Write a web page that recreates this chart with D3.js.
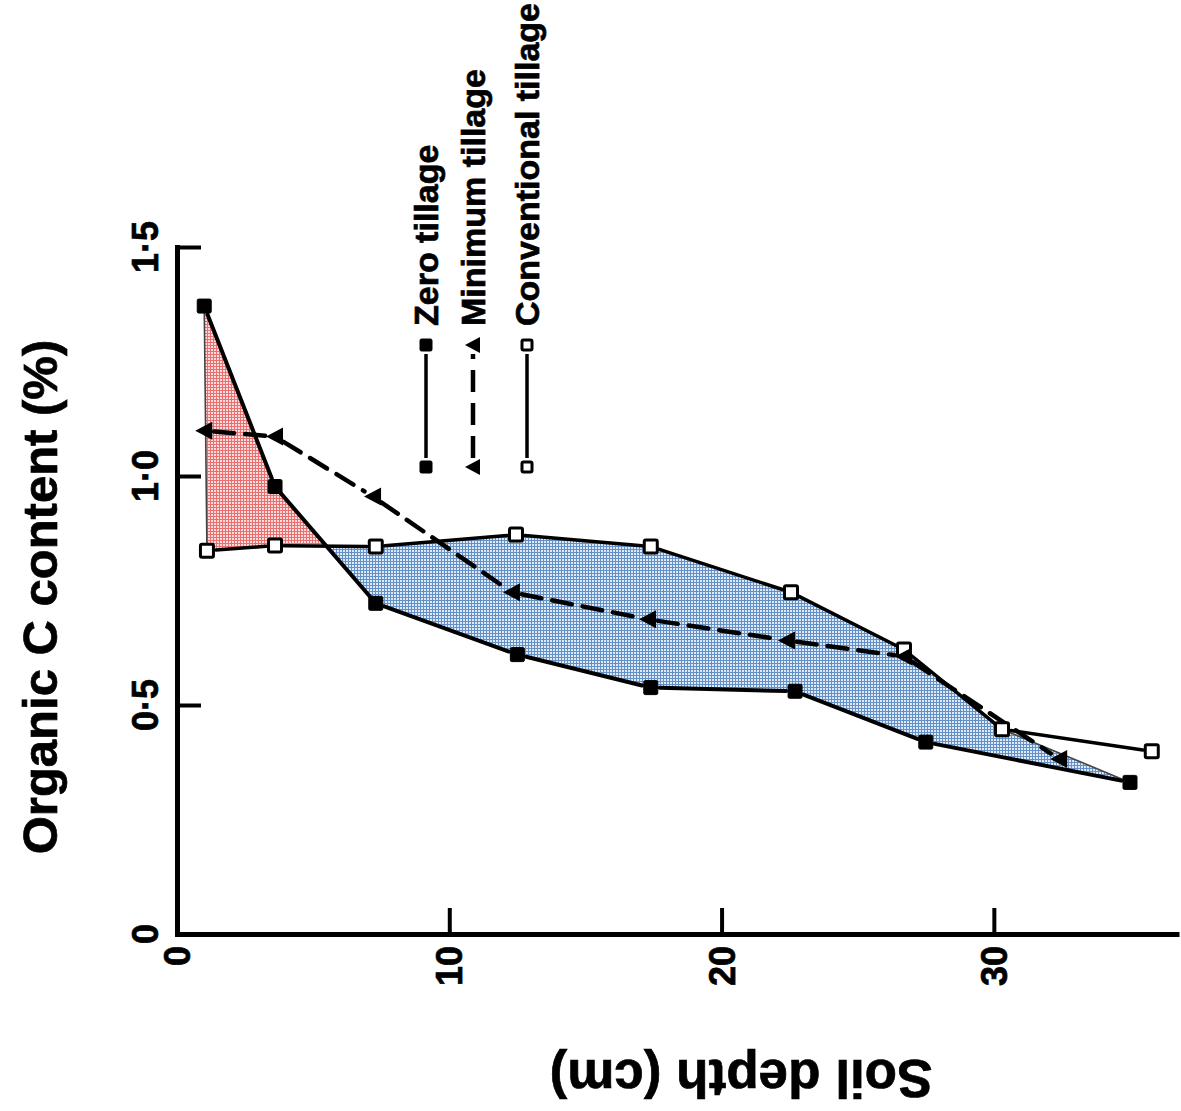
<!DOCTYPE html>
<html><head><meta charset="utf-8">
<script src="https://cdn.jsdelivr.net/npm/d3@7"></script>
<style>
body{margin:0;background:#fff}
svg{display:block}
text{font-family:"Liberation Sans",Arial,Helvetica,sans-serif;font-weight:bold;fill:#000;stroke:#000;stroke-width:0.7px}
</style>
</head><body>
<svg id="c" width="1181" height="1111"></svg>
<script>
// ---------- data ----------
const xTicks = [0, 10, 20, 30];
const xTickLabels = ["0", "10", "20", "30"];
const yTicks = [0, 0.5, 1.0, 1.5];
const yTickLabels = ["0", "0·5", "1·0", "1·5"];
const seriesNames = ["Zero tillage", "Minimum tillage", "Conventional tillage"];
const xTitle = "Soil depth (cm)";
const yTitle = "Organic C content (%)";

const depthZero  = [1.0, 3.6, 7.3, 12.5, 17.4, 22.7, 27.5, 35.0];
const valueZero  = [1.371, 0.977, 0.722, 0.610, 0.538, 0.530, 0.419, 0.331];

const depthMin   = [1.0, 3.6, 7.2, 12.3, 17.3, 22.4, 26.7, 32.4];
const valueMin   = [1.099, 1.086, 0.955, 0.746, 0.687, 0.641, 0.606, 0.382];

const depthConv  = [1.1, 3.6, 7.3, 12.45, 17.4, 22.55, 26.7, 30.3, 35.8];
const valueConv  = [0.837, 0.848, 0.846, 0.872, 0.846, 0.746, 0.621, 0.447, 0.399];

// ---------- setup ----------
const svg = d3.select("#c");
const x = d3.scaleLinear().domain([0, 36.8]).range([177, 1179]);
const y = d3.scaleLinear().domain([0, 1.5]).range([934, 247]);

const defs = svg.append("defs");
function hatch(id, base, line) {
  const p = defs.append("pattern").attr("id", id).attr("width", 3).attr("height", 3)
    .attr("patternUnits", "userSpaceOnUse");
  p.append("rect").attr("width", 3).attr("height", 3).attr("fill", base);
  p.append("path").attr("d", "M0,0.5H3M0.5,0V3").attr("stroke", line)
    .attr("stroke-width", 1).attr("shape-rendering", "crispEdges");
}
hatch("pr", "#ffdcdc", "#e87070");
hatch("pb", "#dde9f6", "#6390c6");

const zero = depthZero.map((d, i) => [d, valueZero[i]]);
const mini = depthMin.map((d, i) => [d, valueMin[i]]);
const conv = depthConv.map((d, i) => [d, valueConv[i]]);

// intersection of zero and conventional polylines (first crossing)
function segInt(a, b, c, d) {
  const r = [b[0]-a[0], b[1]-a[1]], s = [d[0]-c[0], d[1]-c[1]];
  const den = r[0]*s[1] - r[1]*s[0];
  if (Math.abs(den) < 1e-12) return null;
  const t = ((c[0]-a[0])*s[1] - (c[1]-a[1])*s[0]) / den;
  const u = ((c[0]-a[0])*r[1] - (c[1]-a[1])*r[0]) / den;
  if (t < 0 || t > 1 || u < 0 || u > 1) return null;
  return {p: [a[0]+t*r[0], a[1]+t*r[1]]};
}
let cross = null, zi = 0, ci = 0;
outer: for (let i = 0; i < zero.length-1; i++) {
  for (let j = 0; j < conv.length-1; j++) {
    const r = segInt(zero[i], zero[i+1], conv[j], conv[j+1]);
    if (r) { cross = r.p; zi = i; ci = j; break outer; }
  }
}

const poly = d3.line().x(d => x(d[0])).y(d => y(d[1]));
const redPts = [...zero.slice(0, zi+1), cross, ...conv.slice(0, ci+1).reverse()];
const lastConvBlue = conv.length - 2;
const bluePts = [cross, ...conv.slice(ci+1, lastConvBlue+1), zero[zero.length-1],
                 ...zero.slice(zi+1, zero.length-1).reverse()];

svg.append("path").attr("d", poly(redPts) + "Z").attr("fill", "url(#pr)");
svg.append("path").attr("d", poly(bluePts) + "Z").attr("fill", "url(#pb)");
svg.append("path").attr("d", poly(redPts) + "Z").attr("fill", "none")
  .attr("stroke", "#444").attr("stroke-width", 1.6).attr("stroke-linejoin", "round");
svg.append("path").attr("d", poly(bluePts) + "Z").attr("fill", "none")
  .attr("stroke", "#444").attr("stroke-width", 1.6).attr("stroke-linejoin", "round");

// ---------- axes ----------
const xAxis = d3.axisBottom(x).tickValues(xTicks.slice(1)).tickSize(-26).tickSizeOuter(0).tickFormat("");
const gx = svg.append("g").attr("transform", `translate(0,${y(0)})`).call(xAxis);
gx.select(".domain").attr("stroke", "#000").attr("stroke-width", 5);
gx.selectAll(".tick line").attr("stroke", "#000").attr("stroke-width", 4);

const yAxis = d3.axisLeft(y).tickValues(yTicks.slice(1)).tickSize(-24).tickSizeOuter(0).tickFormat("");
const gy = svg.append("g").attr("transform", `translate(${x(0)},0)`).call(yAxis);
gy.select(".domain").attr("stroke", "#000").attr("stroke-width", 5).attr("stroke-linecap", "square");
gy.selectAll(".tick line").attr("stroke", "#000").attr("stroke-width", 4);

// tick labels (rotated)
xTicks.forEach((t, i) => {
  svg.append("text").attr("transform", `translate(${x(t)+13},946) rotate(-90)`)
    .attr("text-anchor", "end").attr("font-size", 36).text(xTickLabels[i]);
});
yTicks.forEach((t, i) => {
  svg.append("text").attr("transform", `translate(158,${y(t)}) rotate(-90)`)
    .attr("text-anchor", "middle").attr("font-size", 36).text(yTickLabels[i]);
});

svg.append("text").attr("transform", "translate(57,597) rotate(-90)")
  .attr("text-anchor", "middle").attr("font-size", 49).text(yTitle);
svg.append("text").attr("transform", "translate(741,1060) rotate(180)")
  .attr("text-anchor", "middle").attr("font-size", 53).text(xTitle);

// ---------- series ----------
function drawSegments(pts, dash, width, gap) {
  const P = pts.map(d => [x(d[0]), y(d[1])]);
  for (let i = 0; i < P.length-1; i++) {
    const [x1, y1] = P[i], [x2, y2] = P[i+1];
    const L = Math.hypot(x2-x1, y2-y1), ux = (x2-x1)/L, uy = (y2-y1)/L;
    svg.append("line")
      .attr("x1", x1+ux*gap).attr("y1", y1+uy*gap)
      .attr("x2", x2-ux*gap).attr("y2", y2-uy*gap)
      .attr("stroke", "#000").attr("stroke-width", width)
      .attr("stroke-dasharray", dash).attr("stroke-linecap", "round");
  }
}
drawSegments(zero, null, 4, 9);
drawSegments(mini, "20,11", 4.5, 10);
drawSegments(conv, null, 3.5, 9);

const triPath = "M-9,0L8,-9L8,9Z";
function square(g, cx, cy, s, filled) {
  g.append("rect").attr("x", cx - s/2).attr("y", cy - s/2).attr("width", s).attr("height", s)
    .attr("rx", 1.5)
    .attr("fill", filled ? "#000" : "#fff").attr("stroke", "#000")
    .attr("stroke-width", filled ? 1 : 3);
}
zero.forEach(d => square(svg, x(d[0]), y(d[1]), 14, true));
conv.forEach(d => square(svg, x(d[0]), y(d[1]), 13, false));
mini.forEach(d => svg.append("path").attr("d", triPath)
  .attr("transform", `translate(${x(d[0])},${y(d[1])})`).attr("fill", "#000"));

// ---------- legend (rotated) ----------
const legCols = [426, 473, 527];
const legBottom = 467, legTop = 345;
seriesNames.forEach((name, i) => {
  const cx = legCols[i];
  const g = svg.append("g");
  g.append("line").attr("x1", cx).attr("x2", cx).attr("y1", legBottom - 9).attr("y2", legTop + 9)
    .attr("stroke", "#000").attr("stroke-width", i === 1 ? 4.5 : 3.5)
    .attr("stroke-dasharray", i === 1 ? "22,11" : null);
  if (i === 0) { square(g, cx, legBottom, 12, true); square(g, cx, legTop, 12, true); }
  if (i === 2) { square(g, cx, legBottom, 10, false); square(g, cx, legTop, 10, false); }
  if (i === 1) {
    [legBottom, legTop].forEach(yy => g.append("path").attr("d", "M-8,0L7,-8L7,8Z")
      .attr("transform", `translate(${cx},${yy})`).attr("fill", "#000"));
  }
  g.append("text").attr("transform", `translate(${cx + 12},326) rotate(-90)`)
    .attr("font-size", 34).text(name);
});
</script>
</body></html>
